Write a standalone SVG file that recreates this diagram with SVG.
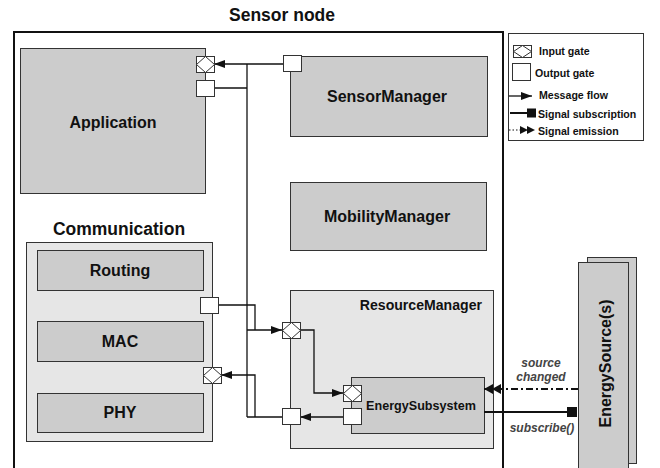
<svg xmlns="http://www.w3.org/2000/svg" width="660" height="468" viewBox="0 0 660 468">
<style>
text{font-family:"Liberation Sans",Arial,sans-serif;font-weight:bold;fill:#111}
.box{fill:#cccccc;stroke:#333;stroke-width:1}
.cont{fill:#e6e6e6;stroke:#333;stroke-width:1}
.gate{fill:#fff;stroke:#333;stroke-width:1}
.ln{fill:none;stroke:#111;stroke-width:1.3}
.lbl{font-size:16px;text-anchor:middle}
.leg{font-size:10.6px}
.it{font-style:italic;font-size:12px;fill:#444;text-anchor:middle}
</style>
<defs>
<marker id="arr" markerUnits="userSpaceOnUse" markerWidth="12" markerHeight="8" refX="11" refY="4" orient="auto">
<path d="M0,0 L11,4 L0,8 z" fill="#111"/>
</marker>
<marker id="dbl" markerUnits="userSpaceOnUse" markerWidth="18" markerHeight="10" refX="17" refY="5" orient="auto">
<path d="M0,0 L9,5 L0,10 z M8,0 L17,5 L8,10 z" fill="#111"/>
</marker>
<g id="ig"><rect class="gate" x="0" y="0" width="18" height="16"/><path d="M9,0 L18,8 L9,16 L0,8 z" fill="#fff" stroke="#333" stroke-width="1"/></g>
<g id="og"><rect class="gate" x="0" y="0" width="18" height="16"/></g>
</defs>

<text x="282" y="21" style="font-size:17.5px" text-anchor="middle">Sensor node</text>
<rect x="14" y="32" width="489" height="445" fill="none" stroke="#111" stroke-width="2"/>

<g id="application">
<rect class="box" x="20.5" y="48.5" width="185" height="145"/>
<text class="lbl" x="113" y="128">Application</text>
</g>
<g id="sensormanager">
<rect class="box" x="290.5" y="56.5" width="197" height="80"/>
<text class="lbl" x="387" y="102">SensorManager</text>
</g>
<g id="mobilitymanager">
<rect class="box" x="290.5" y="182.5" width="196" height="68"/>
<text class="lbl" x="387" y="222">MobilityManager</text>
</g>

<g id="communication">
<text x="119" y="235" style="font-size:17.5px" text-anchor="middle">Communication</text>
<rect class="cont" x="26.5" y="242.5" width="186" height="199"/>
</g>
<g id="routing">
<rect class="box" x="37.5" y="250.5" width="166" height="40"/>
<text class="lbl" x="120" y="276">Routing</text>
</g>
<g id="mac">
<rect class="box" x="37.5" y="321.5" width="166" height="40"/>
<text class="lbl" x="120" y="347">MAC</text>
</g>
<g id="phy">
<rect class="box" x="37.5" y="393.5" width="166" height="39"/>
<text class="lbl" x="120" y="418">PHY</text>
</g>

<g id="resourcemanager">
<rect class="cont" x="290.5" y="290.5" width="203" height="158"/>
<text x="482" y="310" style="font-size:14.1px" text-anchor="end">ResourceManager</text>
</g>
<g id="energysubsystem">
<rect class="box" x="351.5" y="377.5" width="133" height="56"/>
<text x="421" y="409.5" style="font-size:12.6px" text-anchor="middle">EnergySubsystem</text>
</g>

<g id="energysources">
<rect class="box" x="587.5" y="257.5" width="49" height="206"/>
<rect class="box" x="578.5" y="262.5" width="50" height="215"/>
<text class="lbl" transform="translate(611,363.5) rotate(-90)">EnergySource(s)</text>
</g>

<g id="connectors">
<path class="ln" d="M283,64 H214" marker-end="url(#arr)"/>
<path class="ln" d="M247,64 V417"/>
<path class="ln" d="M214,88 H247"/>
<path class="ln" d="M247,330 H282" marker-end="url(#arr)"/>
<path class="ln" d="M218,305 H255 V330"/>
<path class="ln" d="M282,417 H247"/>
<path class="ln" d="M255,417 V375 H221" marker-end="url(#arr)"/>
<path class="ln" d="M300,330 H314 V393 H343" marker-end="url(#arr)"/>
<path class="ln" d="M343,417 H300" marker-end="url(#arr)"/>
<path d="M484,412 H568" fill="none" stroke="#111" stroke-width="2.2"/>
<rect x="567" y="407" width="10" height="10" fill="#111"/>
<path d="M578,389 H484" fill="none" stroke="#111" stroke-width="2.2" stroke-dasharray="7,3,2,3" marker-end="url(#dbl)"/>
<text class="it" x="541" y="367">source</text>
<text class="it" x="541" y="381">changed</text>
<text class="it" x="542" y="432">subscribe()</text>
</g>

<g id="gates">
<use href="#ig" x="196.5" y="56.5"/>
<use href="#og" x="196.5" y="80.5"/>
<use href="#og" x="283.5" y="55.5"/>
<use href="#og" x="200.5" y="297.5"/>
<use href="#ig" x="203.5" y="367.5"/>
<use href="#ig" x="282.5" y="322.5"/>
<use href="#og" x="282.5" y="408.5"/>
<use href="#ig" x="343.5" y="385.5"/>
<use href="#og" x="343.5" y="408.5"/>
</g>

<g id="legend">
<rect x="508.5" y="33.5" width="135" height="107" fill="#fff" stroke="#333" stroke-width="1"/>
<rect class="gate" x="513.5" y="45.5" width="18" height="12"/>
<path d="M522.5,45.5 L531.5,51.5 L522.5,57.5 L513.5,51.5 z" fill="#fff" stroke="#333"/>
<text class="leg" x="539" y="55">Input gate</text>
<rect class="gate" x="512.5" y="63.5" width="18" height="17"/>
<text class="leg" x="535" y="77">Output gate</text>
<path class="ln" d="M509,96 H532" marker-end="url(#arr)"/>
<text class="leg" x="539" y="99">Message flow</text>
<path d="M510,113 H528" stroke="#111" stroke-width="2"/>
<rect x="527" y="108.5" width="9" height="9" fill="#111"/>
<text class="leg" x="538" y="118">Signal subscription</text>
<path d="M509,130 H521" stroke="#111" stroke-width="1" stroke-dasharray="1.5,2"/>
<path d="M520,126 L528,130 L520,134 z M527,126 L535,130 L527,134 z" fill="#111"/>
<text class="leg" x="538" y="135">Signal emission</text>
</g>
</svg>
